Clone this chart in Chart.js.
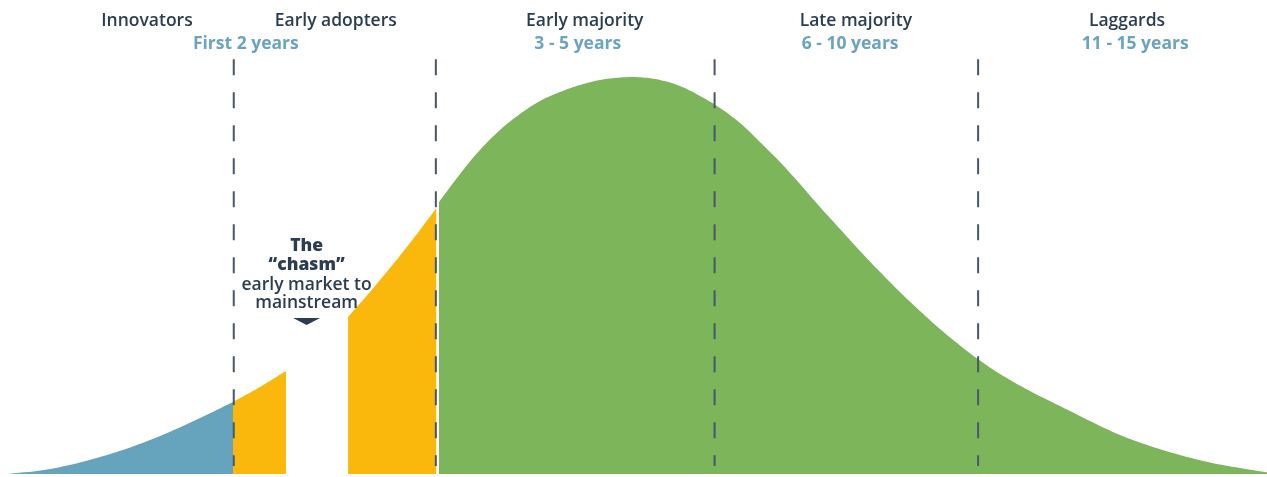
<!DOCTYPE html>
<html>
<head>
<meta charset="utf-8">
<script src="https://cdn.jsdelivr.net/npm/chart.js@4/dist/chart.umd.min.js"></script>
<style>
  html, body { margin: 0; padding: 0; background: #fff; }
  #wrap { width: 1267px; height: 477px; position: relative; }
</style>
</head>
<body>
<div id="wrap"><canvas id="adoptionChart"></canvas></div>
<script>
// x = share of the adoption timeline (0-100), y = adoption relative to peak (100)
const innovatorsX = [0.63, 3.95, 7.89, 11.84, 15.79, 18.39];
const innovatorsY = [0, 1.26, 4.28, 8.56, 14.11, 18.14];

const earlyAdoptersX = [18.39, 20.52, 22.57];
const earlyAdoptersY = [18.14, 21.91, 25.94];

// after the chasm
const earlyAdoptersLateX = [27.47, 29.2, 30.78, 32.36, 34.45];
const earlyAdoptersLateY = [39.55, 45.84, 51.89, 58.19, 67.0];

const majorityX = [34.65, 36.31, 37.88, 39.46, 41.04, 42.62, 44.2, 45.78, 47.36, 48.93, 50.51, 52.09,
                   53.67, 55.25, 56.83, 58.41, 59.98, 61.56, 63.14, 64.72, 66.3, 67.88, 69.46, 71.03,
                   72.61, 74.19, 75.77, 77.35, 78.93, 81.29, 83.66, 86.03, 88.4, 90.77, 93.13, 95.5,
                   97.87, 100];
const majorityY = [68.51, 75.57, 81.61, 86.65, 90.68, 93.95, 96.22, 97.98, 99.24, 99.87, 99.92, 99.24,
                   97.73, 95.21, 92.19, 88.41, 83.63, 78.59, 73.05, 67.25, 61.71, 56.17, 50.88, 45.84,
                   41.06, 36.52, 32.4, 28.6, 25.19, 20.91, 17.13, 13.35, 9.82, 7.05, 4.79, 2.9,
                   1.51, 0.38];

const dividerX = [18.45, 34.4, 56.4, 77.2];

const groupNames = ['Innovators', 'Early adopters', 'Early majority', 'Late majority', 'Laggards'];
const groupYears = ['First 2 years', '', '3 - 5 years', '6 - 10 years', '11 - 15 years'];
const chasmLines = ['The', '\u201Cchasm\u201D', 'early market to', 'mainstream'];

// label placement (in x units)
const nameX = [11.6, 26.5, 46.15, 67.55, 88.95];
const yearX = [19.4, 0, 45.6, 67.1, 89.6];
const chasmX = 24.2;

const toPoints = (xs, ys) => xs.map((x, i) => ({ x: x, y: ys[i] }));

function area(xs, ys, color) {
    return {
        data: toPoints(xs, ys),
        backgroundColor: color,
        borderColor: color,
        borderWidth: 0,
        pointRadius: 0,
        fill: 'origin',
        tension: 0.4,
        order: 2
    };
}

const datasets = [
    area(innovatorsX, innovatorsY, '#66a4bd'),
    area(earlyAdoptersX, earlyAdoptersY, '#f9b80b'),
    area(earlyAdoptersLateX, earlyAdoptersLateY, '#f9b80b'),
    area(majorityX, majorityY, '#7db55a')
];
dividerX.forEach(x => {
    datasets.push({
        data: [{ x: x, y: 104.5 }, { x: x, y: 2 }],
        borderColor: '#46586a',
        borderWidth: 2,
        borderDash: [16, 17],
        pointRadius: 0,
        fill: false,
        order: 1
    });
});

const labelPlugin = {
    id: 'labels',
    afterDraw(chart) {
        const ctx = chart.ctx;
        const xs = chart.scales.x;
        ctx.save();
        ctx.textAlign = 'center';
        ctx.textBaseline = 'middle';

        ctx.fillStyle = '#2b3d50';
        ctx.font = '600 17.5px "Open Sans"';
        groupNames.forEach((name, i) => ctx.fillText(name, xs.getPixelForValue(nameX[i]), 21.5));

        ctx.fillStyle = '#6aa4bf';
        ctx.font = '700 17.5px "Open Sans"';
        groupYears.forEach((txt, i) => {
            if (txt) ctx.fillText(txt, xs.getPixelForValue(yearX[i]), 44.5);
        });

        const cx = xs.getPixelForValue(chasmX);
        ctx.fillStyle = '#2b3d50';
        ctx.font = '800 17.5px "Open Sans"';
        ctx.fillText(chasmLines[0], cx, 246.5);
        ctx.fillText(chasmLines[1], cx, 265.5);
        ctx.font = '600 17.5px "Open Sans"';
        ctx.fillText(chasmLines[2], cx, 285.5);
        ctx.fillText(chasmLines[3], cx, 303.5);

        // little arrow under the chasm note
        ctx.beginPath();
        ctx.moveTo(cx - 13.5, 318);
        ctx.lineTo(cx + 13.5, 318);
        ctx.lineTo(cx, 325);
        ctx.closePath();
        ctx.fill();
        ctx.restore();
    }
};

new Chart(document.getElementById('adoptionChart'), {
    type: 'line',
    data: { datasets: datasets },
    options: {
        responsive: true,
        maintainAspectRatio: false,
        animation: false,
        layout: { padding: { top: 0, bottom: 3, left: 0, right: 0 } },
        plugins: {
            legend: { display: false },
            tooltip: { enabled: false }
        },
        scales: {
            x: { type: 'linear', min: 0, max: 100, display: false },
            y: { min: 0, max: 119.4, display: false }
        }
    },
    plugins: [labelPlugin]
});
</script>
</body>
</html>
